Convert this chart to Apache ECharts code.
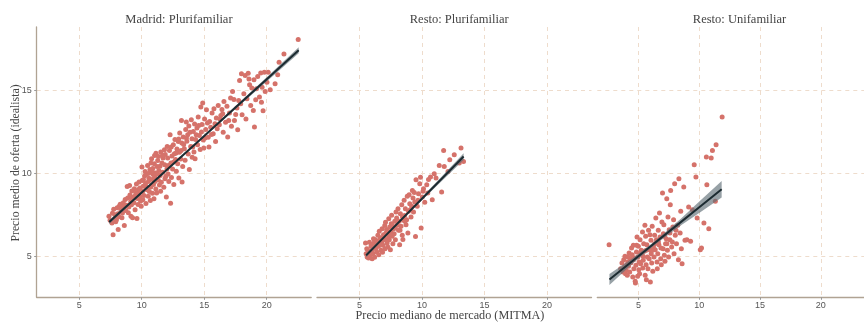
<!DOCTYPE html>
<html>
<head>
<meta charset="utf-8">
<script src="https://cdn.jsdelivr.net/npm/echarts@6/dist/echarts.min.js"></script>
<style>
html,body{margin:0;padding:0;background:#fff}
#chart{width:864px;height:325px}
</style>
</head>
<body>
<div id="chart"></div>
<script>
// datos
var panelNames = ['Madrid: Plurifamiliar', 'Resto: Plurifamiliar', 'Resto: Unifamiliar'];
var xTicks = [5, 10, 15, 20];
var yTicks = [5, 10, 15];

var madridPluri = [
 [7.38,7.43],[7.47,7.18],[7.62,7.02],[7.71,6.32],[7.66,7.61],[7.83,7.27],[7.76,7.84],[7.92,7.09],[7.87,7.52],[8.04,7.93],[7.98,7.21],[8.12,6.63],[8.09,7.58],[8.21,8.03],[8.17,7.39],[8.33,7.71],[8.28,8.14],[8.42,7.34],[8.37,7.88],[8.53,8.24],[8.46,7.62],[8.61,6.87],[8.58,8.02],[8.72,7.77],[8.68,8.43],
 [8.84,9.21],[8.79,8.08],[8.93,7.64],[8.88,8.52],[9.03,9.27],[8.97,7.98],[9.06,8.71],[9.12,8.29],[9.14,7.42],[9.21,8.94],[9.18,8.12],[9.32,8.57],[9.27,7.33],[9.41,9.08],[9.38,8.24],[9.53,8.83],[9.47,7.81],[9.62,7.29],[9.58,9.36],[9.64,8.49],[9.71,8.13],[9.74,9.03],[9.82,8.66],[9.79,9.48],[9.91,8.34],[9.87,9.12],[10.02,10.38],[9.96,8.02],[10.04,9.57],[10.07,8.91],
 [10.12,9.23],[10.09,8.41],[10.23,9.84],[10.18,8.68],[10.31,9.39],[10.27,10.12],[10.34,8.19],[10.43,9.02],[10.38,9.93],[10.52,8.63],[10.47,10.47],[10.54,9.52],[10.61,8.92],[10.58,9.71],[10.66,10.24],[10.73,9.18],[10.69,8.37],[10.74,10.63],[10.83,9.63],[10.79,10.88],[10.86,8.81],[10.92,9.94],[10.88,10.29],[10.94,9.33],[11.03,11.08],[10.98,8.47],[11.04,9.79],[11.01,10.58],
 [11.13,9.07],[11.08,10.03],[11.14,11.21],[11.22,10.41],[11.19,8.83],[11.33,9.61],[11.28,10.77],[11.34,11.02],[11.42,9.31],[11.37,10.18],[11.53,11.29],[11.48,9.88],[11.51,8.93],[11.62,10.62],[11.57,9.47],[11.71,10.93],[11.68,10.07],[11.82,11.42],[11.77,9.17],[11.84,10.52],[11.93,9.83],[11.88,11.13],[12.02,10.27],[11.97,8.58],[12.04,11.61],
 [12.11,9.97],[12.08,10.92],[12.22,11.38],[12.17,9.52],[12.31,8.21],[12.27,12.32],[12.34,10.63],[12.42,11.04],[12.38,9.76],[12.53,11.72],[12.47,10.27],[12.62,11.18],[12.57,9.34],[12.71,10.83],[12.66,12.04],[12.82,11.47],[12.77,10.13],[12.93,11.92],[12.88,10.58],[13.02,11.27],[12.97,9.72],[13.04,12.43],
 [13.12,10.87],[13.18,13.17],[13.23,9.48],[13.21,11.82],[13.32,12.19],[13.28,10.42],[13.41,11.48],[13.52,12.63],[13.47,10.79],[13.61,11.93],[13.57,13.08],[13.72,11.17],[13.68,12.32],[13.81,10.23],[13.77,12.84],[13.92,11.62],[14.02,12.08],[13.97,13.22],[14.04,10.97],
 [14.13,12.52],[14.18,11.28],[14.23,12.97],[14.31,12.03],[14.27,10.88],[14.42,12.73],[14.52,13.38],[14.47,11.72],[14.61,12.28],[14.73,13.98],[14.68,11.43],[14.82,12.93],[14.88,14.22],[14.93,12.01],[15.03,13.27],[14.97,11.52],
 [15.12,12.63],[15.18,13.82],[15.32,12.17],[15.38,11.58],[15.43,13.12],[15.52,12.77],[15.63,13.62],[15.72,12.38],[15.78,13.88],[15.91,11.92],[15.97,13.32],[16.04,12.68],
 [16.12,14.08],[16.21,12.92],[16.33,13.48],[16.42,13.83],[16.52,12.47],[16.58,14.32],[16.71,13.07],[16.82,14.03],[16.88,12.18],[17.02,13.62],
 [17.11,14.52],[17.18,12.83],[17.27,14.92],[17.42,13.17],[17.38,14.43],[17.62,13.93],[17.68,12.62],[17.83,15.58],[17.92,14.18],[18.03,13.52],[17.98,15.98],
 [18.17,14.78],[18.28,15.88],[18.34,13.27],[18.52,16.02],[18.63,15.32],[18.72,14.08],[18.81,15.12],[18.93,13.77],[19.02,12.78],[18.98,15.62],
 [19.12,14.42],[19.28,15.82],[19.42,14.58],[19.52,16.03],[19.63,15.17],[19.71,13.76],[19.81,16.08],[19.88,14.92],[20.02,15.48],
 [20.28,15.02],[20.67,15.38],[20.88,15.92],[20.99,16.68],[21.38,17.17],[22.52,18.04],
 [9.22,8.47],[9.44,8.63],[9.67,8.86],[9.86,8.57],[10.14,9.62],[10.36,9.18],[10.57,10.01],[10.81,10.16],[11.06,9.52],[11.27,9.97],[11.46,10.43],[11.66,11.07],[11.86,9.68],[12.13,10.47],[12.36,11.58],[12.56,10.68],[12.76,11.23],[12.96,12.07],[13.16,11.38],[13.36,11.73],
 [13.58,12.12],[13.86,12.47],[14.08,11.58],[14.36,12.32],[14.56,12.87],[14.78,12.48],[15.07,12.12],[15.26,13.02],[15.58,12.33],[15.86,12.98],[16.26,13.27],[16.48,13.58],[16.96,13.18],[17.52,13.54],[17.76,14.38],[18.42,14.48],[18.58,15.67],[19.18,15.08],[19.58,14.27],[20.12,16.08]
];

var restoPluri = [
 [5.48,5.82],[5.53,5.17],[5.61,4.98],[5.58,5.48],[5.72,4.92],[5.67,5.38],[5.79,5.87],[5.83,5.08],[5.92,5.62],[5.88,5.27],[6.01,4.88],[5.97,5.71],[6.04,5.42],[6.12,6.08],[6.08,5.18],[6.21,4.97],[6.17,5.83],[6.32,5.52],[6.27,6.02],[6.38,5.28],[6.42,5.92],[6.52,5.62],[6.47,6.28],[6.54,5.12],
 [6.61,5.78],[6.58,6.52],[6.72,5.38],[6.67,6.13],[6.81,6.68],[6.77,5.88],[6.84,5.27],[6.92,6.32],[6.88,5.68],[7.02,6.87],[6.97,6.03],[7.04,5.47],[7.12,6.42],[7.08,7.07],[7.21,5.82],[7.17,6.63],[7.32,6.18],[7.27,5.58],[7.34,7.28],[7.42,6.78],[7.38,6.02],[7.52,6.48],[7.47,5.42],[7.54,6.98],
 [7.61,6.22],[7.57,7.48],[7.72,6.68],[7.67,5.78],[7.82,7.12],[7.77,6.38],[7.92,7.68],[7.87,6.02],[8.02,6.88],[7.97,7.32],[8.12,6.58],[8.08,7.87],[8.21,5.72],[8.17,7.13],[8.32,6.82],[8.27,7.58],[8.42,6.28],[8.38,8.12],[8.52,7.18],[8.47,6.03],
 [8.61,7.47],[8.57,8.38],[8.72,6.92],[8.67,7.88],[8.82,8.62],[8.77,7.22],[8.92,7.72],[8.87,6.42],[9.02,8.17],[8.97,8.72],[9.12,7.38],[9.18,8.03],[9.23,8.98],[9.32,7.68],[9.28,8.52],[9.42,8.28],[9.48,6.21],[9.52,9.62],
 [9.62,8.02],[9.72,8.78],[9.82,9.38],[9.88,9.77],[9.93,6.72],[10.02,8.58],[10.12,9.08],[10.22,8.27],[10.38,9.32],[10.52,9.63],[10.68,9.78],[10.82,8.41],[10.98,9.98],[11.12,9.72],
 [11.38,10.48],[11.57,8.88],[11.73,11.37],[11.78,10.42],[12.08,10.12],[12.22,10.82],[12.58,11.12],[12.98,10.62],[13.12,11.53],[13.32,10.72],
 [6.14,5.58],[6.36,5.72],[6.63,6.02],[6.94,6.12],[7.14,5.98],[7.28,6.53],[7.44,6.33],[7.63,6.88],[7.84,6.72],[8.04,7.08],[8.24,6.58],[8.44,7.38],[8.64,7.12],[9.06,7.82],[9.38,8.86],[9.68,8.38],[10.08,8.93],[10.46,8.82]
];

var restoUni = [
 [2.57,5.72],
 [3.52,4.28],[3.63,4.62],[3.71,4.08],[3.78,4.82],[3.84,4.38],[3.92,3.98],[3.88,5.02],[4.03,4.52],[3.98,4.18],[4.12,4.68],[4.07,3.88],[4.22,5.22],[4.17,4.42],[4.32,4.88],[4.27,4.08],[4.42,5.52],[4.37,4.63],[4.52,3.78],[4.47,5.12],
 [4.61,4.28],[4.57,5.68],[4.72,3.52],[4.67,4.92],[4.74,3.42],[4.82,5.28],[4.78,4.48],[4.92,3.82],[4.87,6.18],[4.94,4.98],[5.02,4.22],[4.98,5.62],[5.04,4.68],[5.12,6.02],[5.08,3.98],[5.22,5.38],[5.17,4.58],[5.32,6.48],[5.27,5.12],[5.34,4.32],[5.42,5.78],[5.38,4.78],[5.52,6.88],[5.47,5.32],[5.54,3.88],
 [5.62,4.52],[5.58,6.22],[5.64,3.62],[5.72,4.98],[5.68,5.72],[5.82,6.58],[5.77,4.28],[5.92,5.42],[5.87,4.88],[6.02,5.98],[5.97,3.48],[6.04,5.18],[6.12,6.82],[6.08,4.62],[6.22,5.58],[6.17,4.12],[6.32,6.28],[6.27,4.98],[6.42,7.32],[6.37,5.42],[6.52,4.68],[6.47,6.02],[6.54,4.28],
 [6.62,6.58],[6.58,5.18],[6.72,7.62],[6.67,5.72],[6.82,4.88],[6.77,6.18],[6.92,7.08],[6.87,4.52],[7.02,5.48],[6.97,8.82],[7.04,6.38],[7.12,5.08],[7.08,6.92],[7.22,5.78],[7.17,4.72],[7.32,8.48],[7.27,6.08],[7.42,7.38],[7.37,5.38],[7.52,6.62],[7.47,4.98],
 [7.61,8.12],[7.57,6.02],[7.64,8.98],[7.72,5.58],[7.82,6.78],[7.92,5.18],[7.88,7.22],[8.02,6.28],[7.97,9.38],[8.12,5.78],[8.22,6.88],[8.28,4.82],[8.32,9.68],[8.42,6.42],[8.52,5.48],[8.47,7.72],
 [8.58,4.58],[8.72,9.18],[8.82,5.98],[8.98,6.02],[9.12,7.98],[9.28,5.92],[9.42,7.82],[9.58,10.52],[9.72,9.78],[9.82,7.32],[10.08,5.42],[10.18,5.52],[10.38,7.02],[10.62,9.32],[10.58,10.98],[10.78,6.68],[10.98,10.92],[11.08,11.38],[11.32,8.32],[11.38,11.72],[11.88,13.38],
 [4.13,4.98],[4.58,4.82],[4.83,5.68],[5.13,5.22],[5.37,5.02],[5.63,5.38],[5.93,6.32],[6.13,5.38],[6.33,5.78],[6.63,5.88],[6.84,5.52],[7.13,6.22],[7.33,5.78],[7.58,6.42],[7.78,5.88],[8.08,6.58]
];

// recta ajustada y semiancho de la banda de confianza
var fitX  = [[7.4, 10, 12.5, 15, 17.5, 20, 22.56], [5.53, 7.5, 9.5, 11.5, 13.33], [2.6, 4.5, 6.3, 8.5, 10.2, 11.84]];
var fitY  = [[7.08, 8.85, 10.55, 12.25, 13.95, 15.65, 17.39], [5.08, 6.58, 8.10, 9.62, 11.01], [3.63, 4.74, 5.80, 7.09, 8.09, 9.05]];
var fitSE = [[0.12, 0.07, 0.05, 0.06, 0.09, 0.13, 0.18], [0.12, 0.06, 0.07, 0.13, 0.2], [0.33, 0.17, 0.11, 0.2, 0.36, 0.5]];

var points = [madridPluri, restoPluri, restoUni];

var chart = echarts.init(document.getElementById('chart'));
var lefts = [36.7, 317, 597.3], gw = 274.5;
var serif = '"Liberation Serif", "DejaVu Serif", serif';
var gridColor = '#eedccc', axisColor = '#b0a393';

var grids = [], xAxes = [], yAxes = [], series = [], titles = [];
for (var i = 0; i < 3; i++) {
    grids.push({left: lefts[i], top: 27, width: gw, height: 270.3});
    xAxes.push({
        type: 'value', gridIndex: i, min: 1.6, max: 23.56,
        axisLine: {show: true, lineStyle: {color: axisColor, width: 1.3}},
        axisTick: {show: true, length: 2.5, customValues: xTicks, lineStyle: {color: '#999', width: 1}},
        axisLabel: {customValues: xTicks, color: '#555', fontSize: 9, margin: 4, fontFamily: 'Liberation Sans'},
        splitLine: {show: true, lineStyle: {color: gridColor, type: [4, 4], width: 1}}
    });
    yAxes.push({
        type: 'value', gridIndex: i, min: 2.56, max: 18.79,
        axisLine: {show: i === 0, lineStyle: {color: axisColor, width: 1.3}},
        axisTick: {show: i === 0, length: 2.5, customValues: yTicks, lineStyle: {color: '#999', width: 1}},
        axisLabel: {show: i === 0, customValues: yTicks, color: '#555', fontSize: 9, margin: 5, fontFamily: 'Liberation Sans'},
        splitLine: {show: true, lineStyle: {color: gridColor, type: [4, 4], width: 1}}
    });
    titles.push({
        text: panelNames[i], left: lefts[i] + gw / 2, top: 8, textAlign: 'center',
        textStyle: {fontFamily: serif, fontSize: 12.5, fontWeight: 'normal', color: '#444'}
    });
    series.push({
        type: 'scatter', xAxisIndex: i, yAxisIndex: i, data: points[i],
        symbolSize: 5, itemStyle: {color: '#d5726a', opacity: 1}, z: 2, silent: true
    });
    (function (k) {
        series.push({
            type: 'custom', xAxisIndex: k, yAxisIndex: k, data: [0], z: 3, silent: true,
            renderItem: function (params, api) {
                var pts = [], j;
                for (j = 0; j < fitX[k].length; j++) pts.push(api.coord([fitX[k][j], fitY[k][j] + fitSE[k][j]]));
                for (j = fitX[k].length - 1; j >= 0; j--) pts.push(api.coord([fitX[k][j], fitY[k][j] - fitSE[k][j]]));
                return {type: 'polygon', shape: {points: pts, smooth: 0}, style: {fill: 'rgba(95,110,118,0.65)'}};
            }
        });
    })(i);
    series.push({
        type: 'line', xAxisIndex: i, yAxisIndex: i, z: 4, silent: true,
        data: fitX[i].map(function (x, j) { return [x, fitY[i][j]]; }),
        showSymbol: false, lineStyle: {color: '#1c2b31', width: 2}
    });
}

var option = {
    animation: false,
    backgroundColor: '#fff',
    title: titles,
    grid: grids,
    xAxis: xAxes,
    yAxis: yAxes,
    series: series,
    graphic: [
        {type: 'text', x: 450, y: 316, style: {text: 'Precio mediano de mercado (MITMA)', font: '12.2px ' + serif, fill: '#444', align: 'center', verticalAlign: 'middle'}},
        {type: 'text', x: 16, y: 163, rotation: Math.PI / 2, style: {text: 'Precio medio de oferta (idealista)', font: '11.8px ' + serif, fill: '#444', align: 'center', verticalAlign: 'middle'}}
    ]
};

chart.setOption(option);
window.addEventListener('resize', chart.resize);
</script>
</body>
</html>
